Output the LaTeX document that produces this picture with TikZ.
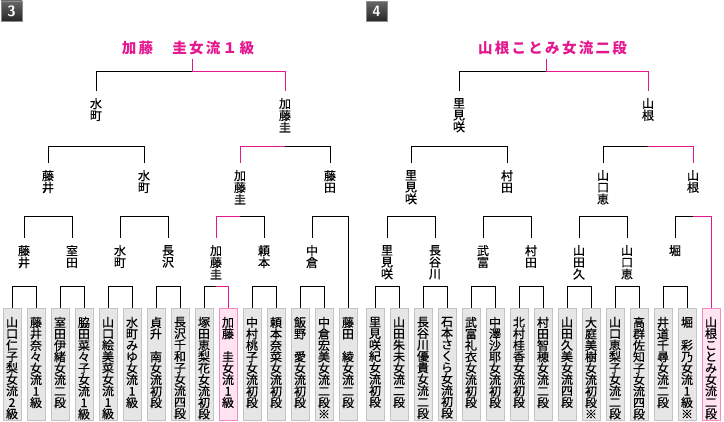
\documentclass[tikz,border=0pt]{standalone}
\usepackage{fontspec}
\newfontfamily\jp[FakeBold=0.5]{Noto Sans CJK JP}
\newfontfamily\jpt{Noto Sans CJK JP}
\definecolor{pk}{HTML}{E5178F}
\definecolor{pkfill}{HTML}{FFE3F0}
\definecolor{pkedge}{HTML}{F08CC0}
\definecolor{bxfill}{HTML}{E6E6E6}
\definecolor{bxedge}{HTML}{C4C4C4}
\newcommand\tc[1]{\makebox[16.8pt]{#1}}
\newcommand\bt[1]{\parbox[c][112pt][t]{16pt}{\vspace*{8.5pt}\centering\jp\fontsize{12}{11.45}\selectfont #1\par}}
\newcommand\brk[6]{\coordinate (#1#2) at (#3,#4); \draw[#5] (#1.north) |- (#1#2); \draw[#6] (#1#2) -| (#2.north);}
\tikzset{
  ln/.style={line width=1pt, black},
  pl/.style={line width=1pt, pk},
  bx/.style={anchor=north, inner sep=0pt, minimum width=18pt, draw=bxedge, fill=bxfill, line width=0.8pt},
  bxp/.style={bx, draw=pkedge, fill=pkfill},
  nm/.style={anchor=north, inner xsep=0pt, inner ysep=7pt, align=center, font=\jp\fontsize{12}{11.8}\selectfont},
  ttl/.style={inner xsep=0pt, inner ysep=3pt, text=pk, font=\jpt\bfseries\fontsize{14.5}{14.5}\selectfont},
  badge/.style={minimum width=21pt, minimum height=20pt, inner sep=0pt, top color=black!60, bottom color=black!85, draw=black!45, text=white, font=\sffamily\bfseries\fontsize{15}{15}\selectfont}
}
\begin{document}
\begin{tikzpicture}[x=1pt,y=-1pt]
\useasboundingbox (0,0) rectangle (724,422);
\fill[white] (0,0) rectangle (724,422);
% badges
\node[badge] (bdgL) at (11.5,11) {3};
\node[badge] (bdgR) at (376.5,11.5) {4};
% ===== left half =====
\node[ttl] (tL) at (188,48.5) {\tc{加}\tc{藤}\tc{　}\tc{圭}\tc{女}\tc{流}\tc{１}\tc{級}};
\node[nm] (n1a) at (96,91) {水\\町};
\node[nm] (n1b) at (285,91) {加\\藤\\圭};
\node[nm] (n2a) at (48,163) {藤\\井};
\node[nm] (n2b) at (144,163) {水\\町};
\node[nm] (n2c) at (240,163) {加\\藤\\圭};
\node[nm] (n2d) at (330,163) {藤\\田};
\node[nm] (n3a) at (24,238) {藤\\井};
\node[nm] (n3b) at (72,238) {室\\田};
\node[nm] (n3c) at (120,238) {水\\町};
\node[nm] (n3d) at (168,238) {長\\沢};
\node[nm] (n3e) at (216,238) {加\\藤\\圭};
\node[nm] (n3f) at (264,238) {頼\\本};
\node[nm] (n3g) at (312,238) {中\\倉};
\node[bx] (b0) at (12,308) {\bt{山\\口\\仁\\子\\梨\\女\\流\\2\\級}};
\node[bx] (b1) at (36,308) {\bt{藤\\井\\奈\\々\\女\\流\\1\\級}};
\node[bx] (b2) at (60,308) {\bt{室\\田\\伊\\緒\\女\\流\\二\\段}};
\node[bx] (b3) at (84,308) {\bt{脇\\田\\菜\\々\\子\\女\\流\\1\\級}};
\node[bx] (b4) at (108,308) {\bt{山\\口\\絵\\美\\菜\\女\\流\\1\\級}};
\node[bx] (b5) at (132,308) {\bt{水\\町\\み\\ゆ\\女\\流\\1\\級}};
\node[bx] (b6) at (156,308) {\bt{貞\\升\\　\\南\\女\\流\\初\\段}};
\node[bx] (b7) at (180,308) {\bt{長\\沢\\千\\和\\子\\女\\流\\四\\段}};
\node[bx] (b8) at (204,308) {\bt{塚\\田\\恵\\梨\\花\\女\\流\\初\\段}};
\node[bxp] (b9) at (228,308) {\bt{加\\藤\\　\\圭\\女\\流\\1\\級}};
\node[bx] (b10) at (252,308) {\bt{中\\村\\桃\\子\\女\\流\\初\\段}};
\node[bx] (b11) at (276,308) {\bt{頼\\本\\奈\\菜\\女\\流\\初\\段}};
\node[bx] (b12) at (300,308) {\bt{飯\\野\\　\\愛\\女\\流\\初\\段}};
\node[bx] (b13) at (324,308) {\bt{中\\倉\\宏\\美\\女\\流\\二\\段\\※}};
\node[bx] (b14) at (348,308) {\bt{藤\\田\\　\\綾\\女\\流\\二\\段}};
% brackets left
\brk{b0}{b1}{24}{287}{ln}{ln}
\brk{b2}{b3}{72}{287}{ln}{ln}
\brk{b4}{b5}{120}{287}{ln}{ln}
\brk{b6}{b7}{168}{287}{ln}{ln}
\brk{b8}{b9}{216}{287}{ln}{pl}
\brk{b10}{b11}{264}{287}{ln}{ln}
\brk{b12}{b13}{312}{287}{ln}{ln}
\brk{n3a}{n3b}{48}{217}{ln}{ln}
\brk{n3c}{n3d}{144}{217}{ln}{ln}
\brk{n3e}{n3f}{240}{217}{pl}{ln}
\brk{n3g}{b14}{330}{217}{ln}{ln}
\brk{n2a}{n2b}{96}{147}{ln}{ln}
\brk{n2c}{n2d}{285}{147}{pl}{ln}
\brk{n1a}{n1b}{192}{72}{ln}{pl}
\draw[pl] (tL.south -| n1an1b) -- (n1an1b);
% ===== right half =====
\node[ttl] (tR) at (552.5,48.5) {\tc{山}\tc{根}\tc{こ}\tc{と}\tc{み}\tc{女}\tc{流}\tc{二}\tc{段}};
\node[nm] (m1a) at (459,91) {里\\見\\咲};
\node[nm] (m1b) at (648,91) {山\\根};
\node[nm] (m2a) at (411,163) {里\\見\\咲};
\node[nm] (m2b) at (507,163) {村\\田};
\node[nm] (m2c) at (603,163) {山\\口\\恵};
\node[nm] (m2d) at (693,163) {山\\根};
\node[nm] (m3a) at (387,238) {里\\見\\咲};
\node[nm] (m3b) at (435,238) {長\\谷\\川};
\node[nm] (m3c) at (483,238) {武\\富};
\node[nm] (m3d) at (531,238) {村\\田};
\node[nm] (m3e) at (579,238) {山\\田\\久};
\node[nm] (m3f) at (627,238) {山\\口\\恵};
\node[nm] (m3g) at (675,238) {堀};
\node[bx] (c0) at (375,308) {\bt{里\\見\\咲\\紀\\女\\流\\初\\段}};
\node[bx] (c1) at (399,308) {\bt{山\\田\\朱\\未\\女\\流\\二\\段}};
\node[bx] (c2) at (423,308) {\bt{長\\谷\\川\\優\\貴\\女\\流\\二\\段}};
\node[bx] (c3) at (447,308) {\bt{石\\本\\さ\\く\\ら\\女\\流\\初\\段}};
\node[bx] (c4) at (471,308) {\bt{武\\富\\礼\\衣\\女\\流\\初\\段}};
\node[bx] (c5) at (495,308) {\bt{中\\澤\\沙\\耶\\女\\流\\初\\段}};
\node[bx] (c6) at (519,308) {\bt{北\\村\\桂\\香\\女\\流\\初\\段}};
\node[bx] (c7) at (543,308) {\bt{村\\田\\智\\穂\\女\\流\\二\\段}};
\node[bx] (c8) at (567,308) {\bt{山\\田\\久\\美\\女\\流\\四\\段}};
\node[bx] (c9) at (591,308) {\bt{大\\庭\\美\\樹\\女\\流\\初\\段\\※}};
\node[bx] (c10) at (615,308) {\bt{山\\口\\恵\\梨\\子\\女\\流\\二\\段}};
\node[bx] (c11) at (639,308) {\bt{高\\群\\佐\\知\\子\\女\\流\\四\\段}};
\node[bx] (c12) at (663,308) {\bt{井\\道\\千\\尋\\女\\流\\二\\段}};
\node[bx] (c13) at (687,308) {\bt{堀\\　\\彩\\乃\\女\\流\\1\\級\\※}};
\node[bxp] (c14) at (711,308) {\bt{山\\根\\こ\\と\\み\\女\\流\\二\\段}};
% brackets right
\brk{c0}{c1}{387}{287}{ln}{ln}
\brk{c2}{c3}{435}{287}{ln}{ln}
\brk{c4}{c5}{483}{287}{ln}{ln}
\brk{c6}{c7}{531}{287}{ln}{ln}
\brk{c8}{c9}{579}{287}{ln}{ln}
\brk{c10}{c11}{627}{287}{ln}{ln}
\brk{c12}{c13}{675}{287}{ln}{ln}
\brk{m3a}{m3b}{411}{217}{ln}{ln}
\brk{m3c}{m3d}{507}{217}{ln}{ln}
\brk{m3e}{m3f}{603}{217}{ln}{ln}
\brk{m3g}{c14}{693}{217}{ln}{pl}
\brk{m2a}{m2b}{459}{147}{ln}{ln}
\brk{m2c}{m2d}{648}{147}{ln}{pl}
\brk{m1a}{m1b}{546}{72}{ln}{pl}
\draw[pl] (tR.south -| m1am1b) -- (m1am1b);
\end{tikzpicture}
\end{document}
